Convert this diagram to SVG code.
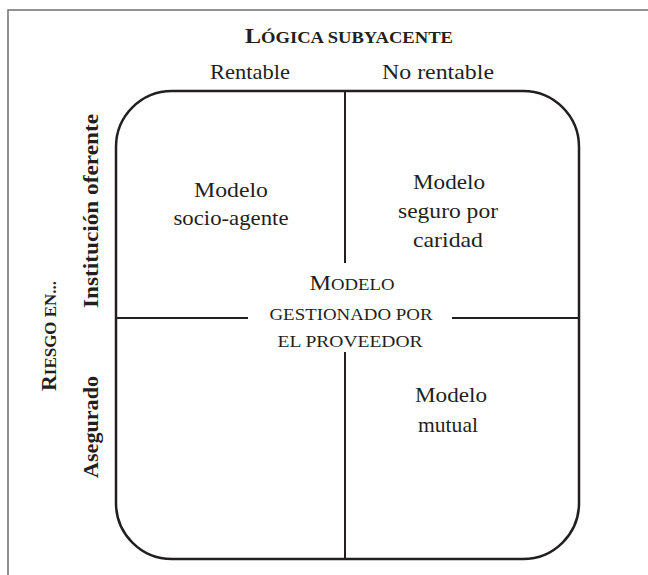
<svg xmlns="http://www.w3.org/2000/svg" width="648" height="575" viewBox="0 0 648 575">
  <style>
    text { font-family: "Liberation Serif", "Times New Roman", "DejaVu Serif", serif; fill: #231f20; text-anchor: middle; }
    .lbl { font-size: 21px; }
    .bold { font-weight: bold; }
    .frame { fill: none; stroke: #6d6e71; stroke-width: 1.5; }
    .box { fill: none; stroke: #231f20; stroke-width: 2.5; }
    .div { stroke: #231f20; stroke-width: 2; fill: none; }
  </style>
  <rect width="648" height="575" fill="#ffffff"/>
  <!-- page frame -->
  <path class="frame" d="M8,575 V10 H648"/>

  <!-- axis headers -->
  <g id="header-top">
    <text x="349" y="43" class="bold" font-size="22" textLength="208" lengthAdjust="spacingAndGlyphs">L<tspan font-size="17">ÓGICA SUBYACENTE</tspan></text>
    <text x="250" y="79" class="lbl" textLength="80" lengthAdjust="spacingAndGlyphs">Rentable</text>
    <text x="438" y="79" class="lbl" textLength="112" lengthAdjust="spacingAndGlyphs">No rentable</text>
  </g>
  <g id="header-left">
    <text transform="translate(98,211) rotate(-90)" class="lbl bold" textLength="194" lengthAdjust="spacingAndGlyphs">Institución oferente</text>
    <text transform="translate(98,427) rotate(-90)" class="lbl bold" textLength="102" lengthAdjust="spacingAndGlyphs">Asegurado</text>
    <text transform="translate(56,336) rotate(-90)" class="bold" font-size="22" textLength="110" lengthAdjust="spacingAndGlyphs">R<tspan font-size="17">IESGO EN...</tspan></text>
  </g>

  <!-- quadrant frame -->
  <g id="matrix">
    <rect class="box" x="116" y="91" width="463" height="468" rx="56" ry="56"/>
  </g>
  <g id="connectors">
    <line class="div" x1="345" y1="91" x2="345" y2="263"/>
    <line class="div" x1="345" y1="352" x2="345" y2="559"/>
    <line class="div" x1="116" y1="318" x2="248" y2="318"/>
    <line class="div" x1="452" y1="318" x2="579" y2="318"/>
  </g>

  <g id="q-socio-agente">
    <text x="231" y="197" class="lbl" textLength="74" lengthAdjust="spacingAndGlyphs">Modelo</text>
    <text x="231" y="225" class="lbl" textLength="115" lengthAdjust="spacingAndGlyphs">socio-agente</text>
  </g>
  <g id="q-caridad">
    <text x="449" y="189" class="lbl" textLength="72" lengthAdjust="spacingAndGlyphs">Modelo</text>
    <text x="448" y="218" class="lbl" textLength="100" lengthAdjust="spacingAndGlyphs">seguro por</text>
    <text x="448" y="247" class="lbl" textLength="70" lengthAdjust="spacingAndGlyphs">caridad</text>
  </g>
  <g id="q-proveedor">
    <text x="352" y="290" font-size="22" textLength="85" lengthAdjust="spacingAndGlyphs">M<tspan font-size="17">ODELO</tspan></text>
    <text x="351" y="320" font-size="17" textLength="163" lengthAdjust="spacingAndGlyphs">GESTIONADO POR</text>
    <text x="350" y="347" font-size="17" textLength="145" lengthAdjust="spacingAndGlyphs">EL PROVEEDOR</text>
  </g>
  <g id="q-mutual">
    <text x="451" y="402" class="lbl" textLength="72" lengthAdjust="spacingAndGlyphs">Modelo</text>
    <text x="448" y="432" class="lbl" textLength="60" lengthAdjust="spacingAndGlyphs">mutual</text>
  </g>
</svg>
